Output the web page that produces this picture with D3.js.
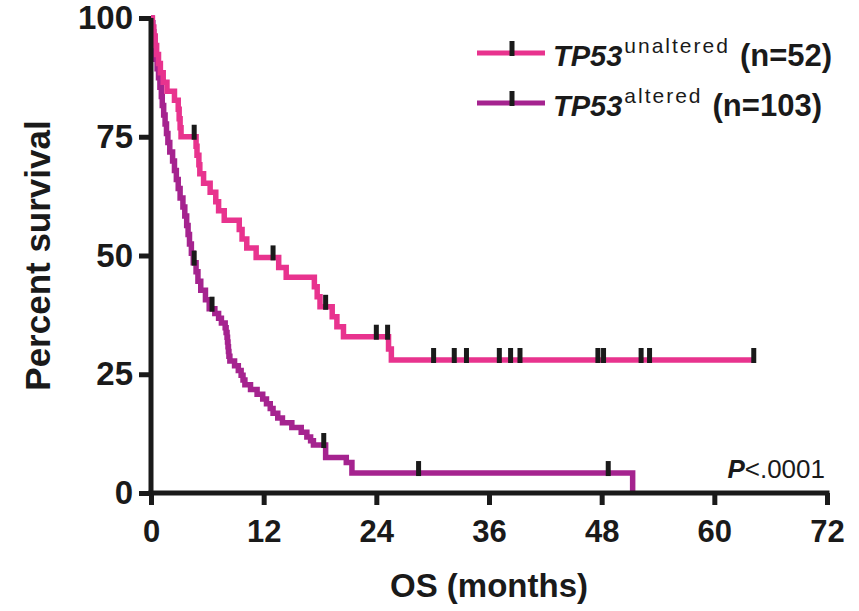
<!DOCTYPE html>
<html>
<head>
<meta charset="utf-8">
<script src="https://cdn.jsdelivr.net/npm/d3@7"></script>
<style>
  html, body { margin: 0; padding: 0; background: #fff; }
  svg { display: block; font-family: "Liberation Sans", Arial, Helvetica, sans-serif; }
</style>
</head>
<body>
<div id="chart"></div>
<script>
// Kaplan-Meier steps: [month, percent surviving]
const unalteredSteps = [
  [0, 100], [0.15, 98.1], [0.3, 96.2], [0.45, 94.2], [0.6, 92.3], [0.8, 90.4],
  [1.0, 88.5], [1.3, 86.5], [1.7, 84.6], [2.5, 82.7], [2.9, 80.8], [3.0, 78.8],
  [3.1, 76.9], [3.2, 75.0], [4.8, 73.0], [4.9, 71.1], [5.1, 69.1], [5.2, 67.2],
  [5.6, 65.2], [6.3, 63.3], [6.9, 61.3], [7.2, 59.4], [7.8, 57.4], [9.4, 55.5],
  [9.7, 53.5], [10.2, 51.6], [11.2, 49.6], [13.6, 47.5], [14.4, 45.4], [17.4, 43.4],
  [17.7, 41.3], [18.0, 39.2], [19.3, 37.1], [19.8, 35.0], [20.5, 32.9], [25.3, 30.3],
  [25.6, 28.0], [64.2, 28.0]
];
const unalteredCensored = [4.6, 13.0, 18.6, 24.0, 25.2, 30.1, 32.3, 33.6, 37.1, 38.3, 39.3, 47.6, 48.2, 52.2, 53.1, 64.2];

const alteredSteps = [
  [0, 100], [0.1, 99.0], [0.2, 97.1], [0.3, 95.1], [0.4, 93.2], [0.5, 91.3],
  [0.65, 89.3], [0.8, 87.4], [0.95, 85.4], [1.1, 83.5], [1.2, 81.6], [1.35, 79.6],
  [1.5, 77.7], [1.65, 75.7], [1.8, 73.8], [2.0, 71.8], [2.3, 69.9], [2.5, 67.9],
  [2.7, 66.0], [2.9, 64.1], [3.1, 62.1], [3.4, 60.2], [3.6, 58.3], [3.8, 56.3],
  [3.95, 54.4], [4.1, 52.4], [4.3, 50.5], [4.5, 48.5], [4.8, 46.6], [5.0, 44.6],
  [5.3, 42.7], [5.8, 40.7], [6.2, 38.8], [6.8, 37.8], [7.2, 36.8], [7.5, 35.8],
  [7.9, 34.8], [8.0, 33.8], [8.1, 32.8], [8.15, 31.8], [8.2, 30.8], [8.25, 29.8],
  [8.3, 28.8], [8.4, 27.8], [8.9, 26.8], [9.3, 25.8], [9.6, 24.8], [9.8, 23.8],
  [10.0, 22.8], [10.6, 21.8], [11.3, 20.8], [11.9, 19.8], [12.3, 18.8], [12.7, 17.8],
  [13.0, 16.8], [13.5, 15.8], [14.0, 14.8], [15.0, 13.8], [16.0, 12.8], [16.6, 11.8],
  [17.0, 11.0], [17.3, 10.1], [18.6, 7.5], [20.8, 6.4], [21.4, 4.2], [51.3, 0]
];
const alteredCensored = [4.6, 6.5, 18.4, 28.5, 48.7];

const xTicks = [0, 12, 24, 36, 48, 60, 72];
const yTicks = [0, 25, 50, 75, 100];

const pink = "#e8338e";
const purple = "#a5238f";

const width = 859;
const height = 611;

const svg = d3.select("#chart").append("svg")
  .attr("width", width)
  .attr("height", height);

const x = d3.scaleLinear().domain([0, 72]).range([151, 827]);
const y = d3.scaleLinear().domain([0, 100]).range([493, 18]);

// value of a step curve at time t
function levelAt(steps, t) {
  let v = steps[0][1];
  for (const s of steps) {
    if (s[0] <= t) v = s[1];
  }
  return v;
}

const line = d3.line()
  .x(d => x(d[0]))
  .y(d => y(d[1]))
  .curve(d3.curveStepAfter);

function drawCurve(steps, censored, color) {
  svg.append("path")
    .datum(steps)
    .attr("fill", "none")
    .attr("stroke", color)
    .attr("stroke-width", 5.5)
    .attr("d", line);

  svg.append("g")
    .selectAll("rect")
    .data(censored)
    .join("rect")
    .attr("x", d => x(d) - 2.5)
    .attr("y", d => y(levelAt(steps, d)) - 12)
    .attr("width", 5)
    .attr("height", 15)
    .attr("fill", "#1a1a1a");
}

drawCurve(alteredSteps, alteredCensored, purple);
drawCurve(unalteredSteps, unalteredCensored, pink);

// axes
const xAxis = svg.append("g")
  .attr("transform", `translate(0, ${y(0)})`)
  .call(d3.axisBottom(x).tickValues(xTicks).tickSize(12).tickSizeOuter(0).tickPadding(15));

const yAxis = svg.append("g")
  .attr("transform", `translate(${x(0)}, 0)`)
  .call(d3.axisLeft(y).tickValues(yTicks).tickSize(12).tickSizeOuter(0).tickPadding(6));

[xAxis, yAxis].forEach(a => {
  a.select(".domain").attr("stroke", "#1a1a1a").attr("stroke-width", 5);
  a.selectAll(".tick line").attr("stroke", "#1a1a1a").attr("stroke-width", 5);
  a.selectAll(".tick text")
    .attr("fill", "#1a1a1a")
    .style("font-family", "'Liberation Sans', Arial, sans-serif")
    .style("font-weight", "bold")
    .style("font-size", "31px");
});
yAxis.selectAll(".tick text").style("font-size", "33px");
xAxis.select(".domain").attr("d", `M${x(0) - 2.5},0H${x(72) + 2.5}`);
yAxis.select(".domain").attr("d", `M0,${y(100)}V${y(0) + 2.5}`);

// axis titles
svg.append("text")
  .attr("transform", `translate(50, ${(y(0) + y(100)) / 2}) rotate(-90)`)
  .attr("text-anchor", "middle")
  .attr("font-weight", "bold")
  .attr("font-size", 35)
  .attr("fill", "#1a1a1a")
  .text("Percent survival");

svg.append("text")
  .attr("x", (x(0) + x(72)) / 2)
  .attr("y", 597)
  .attr("text-anchor", "middle")
  .attr("font-weight", "bold")
  .attr("font-size", 33)
  .attr("fill", "#1a1a1a")
  .text("OS (months)");

// legend
const legendRows = [
  { color: pink, sup: "unaltered", n: "(n=52)", y: 53 },
  { color: purple, sup: "altered", n: "(n=103)", y: 103 }
];

const legend = svg.append("g");
legendRows.forEach(r => {
  legend.append("line")
    .attr("x1", 477).attr("x2", 545)
    .attr("y1", r.y).attr("y2", r.y)
    .attr("stroke", r.color)
    .attr("stroke-width", 5);
  legend.append("rect")
    .attr("x", 509.5).attr("y", r.y - 12)
    .attr("width", 5).attr("height", 15)
    .attr("fill", "#1a1a1a");
  const t = legend.append("text")
    .attr("x", 553)
    .attr("y", r.y + 13)
    .attr("fill", "#1a1a1a")
    .attr("font-size", 29)
    .attr("font-weight", "bold");
  t.append("tspan").attr("font-style", "italic").text("TP53");
  t.append("tspan")
    .attr("font-size", 21)
    .attr("font-weight", "normal")
    .attr("letter-spacing", 2)
    .attr("dx", 2)
    .attr("dy", -13)
    .text(r.sup);
  t.append("tspan")
    .attr("font-size", 31)
    .attr("dy", 13)
    .attr("dx", 10)
    .text(r.n);
});

// p value
const p = svg.append("text")
  .attr("x", 825)
  .attr("y", 478)
  .attr("text-anchor", "end")
  .attr("font-size", 26)
  .attr("fill", "#1a1a1a");
p.append("tspan").attr("font-style", "italic").attr("font-weight", "bold").text("P");
p.append("tspan").text("<.0001");
</script>
</body>
</html>
